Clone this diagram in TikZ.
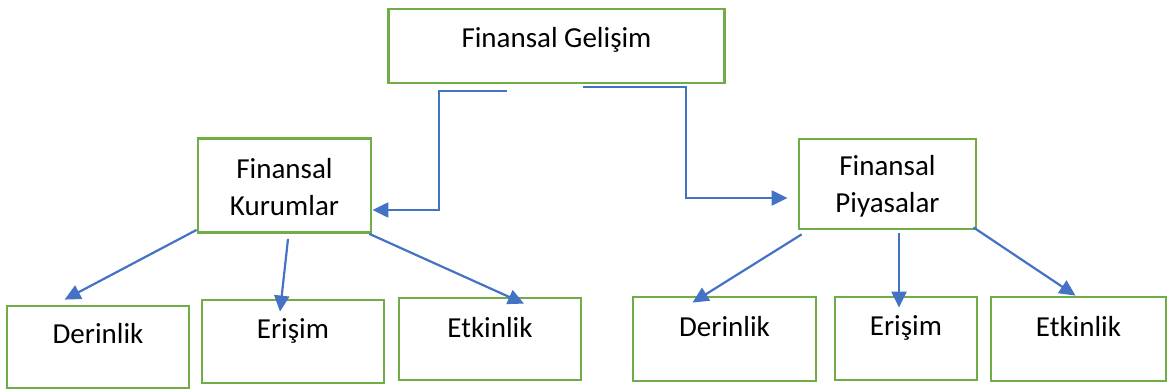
\documentclass[tikz,border=0pt]{standalone}
\usepackage{fontspec}
\setmainfont{Carlito}
\usepackage{tikz}
\usetikzlibrary{arrows.meta}
\definecolor{boxgreen}{RGB}{112,173,71}
\definecolor{linkblue}{RGB}{68,114,196}
\tikzset{
    kutu/.style={
        draw=boxgreen,
        line width=1.4pt,
        inner sep=0pt,
        align=center,
        font=\fontsize{14.5}{18.5}\selectfont
    },
    altkutu/.style={
        kutu,
        text height=10pt,
        text depth=13pt
    },
    link/.style={
        draw=linkblue,
        line width=1.1pt,
        -{Triangle[length=8pt,width=7.5pt]}
    }
}

\begin{document}
\begin{tikzpicture}[x=0.5pt,y=-0.5pt]
    \useasboundingbox (0,0) rectangle (1167,390);
    % ust kutu
    \node[kutu, minimum width=168pt, minimum height=37pt,
        text height=10pt, text depth=8pt] (gelisim) at (556.5,46) {Finansal Geli\c{s}im};
    % orta kutular
    \node[kutu, minimum width=86.5pt, minimum height=47pt,
        text height=29.5pt, text depth=0pt] (kurumlar) at (284.5,185.5) {Finansal\\Kurumlar};
    \node[kutu, minimum width=88.5pt, minimum height=45pt,
        text height=28.5pt, text depth=0pt] (piyasalar) at (887.5,184) {Finansal\\Piyasalar};
    % alt kutular
    \node[altkutu, minimum width=91pt, minimum height=41pt, text depth=14pt] (kDerinlik) at (98,347) {Derinlik};
    \node[altkutu, minimum width=91pt, minimum height=41.5pt] (kErisim) at (293,341.5) {Eri\c{s}im};
    \node[altkutu, minimum width=91pt, minimum height=41pt, text depth=12pt] (kEtkinlik) at (490,339) {Etkinlik};
    \node[altkutu, minimum width=91.5pt, minimum height=42pt] (pDerinlik) at (724.5,339) {Derinlik};
    \node[altkutu, minimum width=71pt, minimum height=41.5pt] (pErisim) at (906,338.5) {Eri\c{s}im};
    \node[altkutu, minimum width=87.5pt, minimum height=42pt] (pEtkinlik) at (1078.5,339) {Etkinlik};

    % baglantilar
    \coordinate (gelL) at (507,91);
    \coordinate (gelR) at (583,87);
    \draw[link] (gelL) -| (439,210) -- (kurumlar.east |- 439,210);
    \draw[link] (gelR) -| (686,198) -- ([xshift=-5pt]piyasalar.west |- 686,198);

    \draw[link] ([yshift=2pt]kurumlar.south west) -- ([xshift=29.5pt,yshift=2.5pt]kDerinlik.north west);
    \draw[link] ([xshift=1.75pt,yshift=-2.5pt]kurumlar.south) -- ([xshift=-6.5pt,yshift=-6.5pt]kErisim.north);
    \draw[link] ([xshift=-1.5pt]kurumlar.south east) -- ([xshift=17pt,yshift=-3.5pt]kEtkinlik.north);

    \draw[link] ([xshift=2pt,yshift=-2pt]piyasalar.south west) -- ([xshift=-16pt,yshift=-3.5pt]pDerinlik.north);
    \draw[link] ([xshift=5.75pt,yshift=-1.5pt]piyasalar.south) -- ([xshift=-3.5pt,yshift=-6pt]pErisim.north);
    \draw[link] ([xshift=-2pt,yshift=1.5pt]piyasalar.south east) -- ([xshift=-1.5pt]pEtkinlik.north);
\end{tikzpicture}
\end{document}
